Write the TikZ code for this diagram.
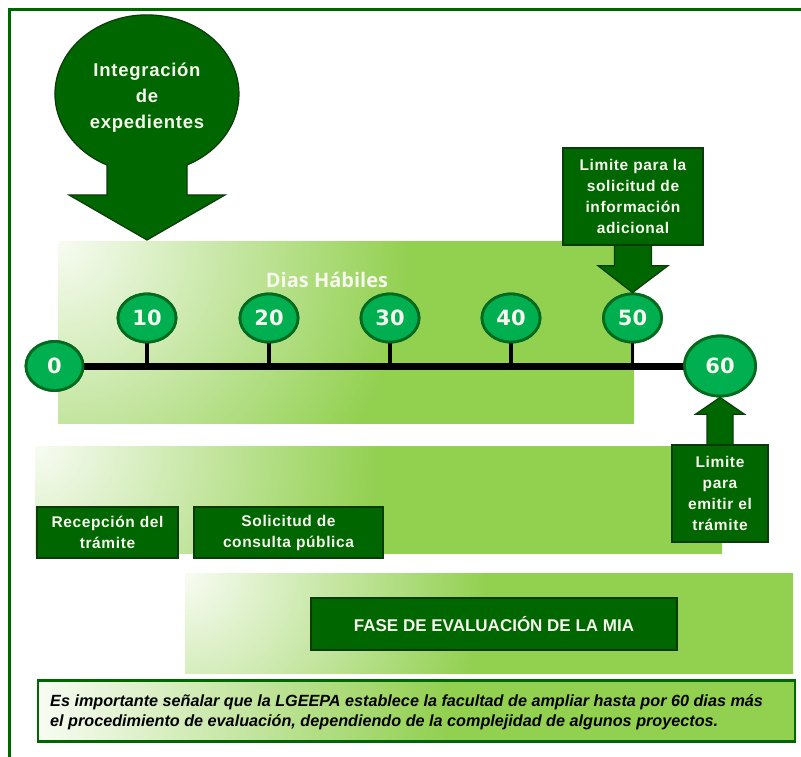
\documentclass[tikz,border=0pt]{standalone}
\usepackage{fontspec}
\setmainfont{Liberation Sans}
\newfontfamily\numfont{DejaVu Sans}
\newfontfamily\diasfont{Open Sans}
\newfontfamily\boxfont[LetterSpace=4.0]{Liberation Sans}
\usetikzlibrary{shapes.geometric}
\definecolor{bandg}{HTML}{92D050}
\definecolor{boxg}{HTML}{006600}
\definecolor{boxedge}{HTML}{0B3B0B}
\definecolor{circg}{HTML}{00B050}
\definecolor{circedge}{HTML}{006B1E}
\definecolor{framec}{HTML}{006600}
\definecolor{txtw}{HTML}{F6F8EE}
\colorlet{palegreen}{bandg!7}
\pgfdeclarehorizontalshading{notefade}{100bp}{color(0bp)=(palegreen); color(25bp)=(palegreen); color(52bp)=(bandg); color(100bp)=(bandg)}
\pgfdeclareradialshading{bandfade}{\pgfpoint{0bp}{0bp}}{color(0bp)=(palegreen); color(21bp)=(bandg); color(25bp)=(bandg); color(50bp)=(bandg)}
\newcommand{\myband}[5]{%
  \begin{scope}
    \clip (#1,#2) rectangle (#3,#4);
    \fill[bandg] (#1-5,#2-5) rectangle (#3+5,#4+5);
    \shade[shading=bandfade] (#1,#2) circle (#5);
  \end{scope}}
\tikzset{
  daynum/.style={ellipse, draw=circedge, line width=2.8pt, fill=circg, inner sep=0pt,
    minimum width=58pt, minimum height=48pt, text=txtw,
    font=\numfont\bfseries\fontsize{21}{21}\selectfont},
  gbox/.style={rectangle, fill=boxg, draw=boxedge, line width=1.5pt, text=txtw,
    font=\boxfont\bfseries\fontsize{15.5}{21}\selectfont, align=center, inner sep=0pt},
  garrow/.style={fill=boxg, draw=boxedge, line width=1.2pt, line join=miter},
  stem/.style={line width=3.5pt, black},
  axis/.style={line width=7pt, black}
}
\begin{document}
\begin{tikzpicture}[x=1pt,y=-1pt]
\useasboundingbox (0,0) rectangle (801,757);
\fill[white] (0,0) rectangle (801,757);
% frame
\draw[framec, line width=3.5pt] (9.5,757) -- (9.5,9.5) -- (801,9.5);
% bands
\myband{58}{241}{634}{423}{420}
\myband{35}{446}{722}{553}{410}
\myband{185}{573}{793}{673}{360}
% big arrow
\filldraw[garrow] (107,165) -- (107,195) -- (69,195) -- (147,240) -- (225,195) -- (187,195) -- (187,165)
  arc[start angle=64.2, end angle=-244.2, x radius=92, y radius=79] -- cycle;
\node[text=txtw, font=\boxfont\bfseries\fontsize{18.5}{26}\selectfont, align=center] (integ) at (147,98) {Integración\\de\\expedientes};
% timeline
\node[daynum, minimum width=57pt, minimum height=49pt] (n0) at (54.5,366) {0};
\node[daynum, minimum width=71pt, minimum height=60pt] (n60) at (720,366) {60};
\draw[axis] (n0.center) -- (n60.center);
\foreach \v/\x in {10/147,20/269,30/390,40/511,50/632.5}{
  \node[daynum] (n\v) at (\x,318) {\v};
  \draw[stem] (n\v.center) -- (n\v |- n0.center);
  \node[daynum] at (n\v) {\v};
}
\node[daynum, minimum width=57pt, minimum height=49pt] at (n0) {0};
\node[daynum, minimum width=71pt, minimum height=60pt] at (n60) {60};
\node[text=txtw, font=\diasfont\bfseries\fontsize{20}{20}\selectfont] (dias) at (327,280) {Dias Hábiles};
% info box and arrow
\node[gbox, minimum width=140pt, minimum height=97pt] (info) at (633,196.5) {Limite para la\\solicitud de\\información\\adicional};
\filldraw[garrow] ([xshift=-18.5pt,yshift=1pt]info.south) -- ([xshift=-18.5pt,yshift=-20pt]info.south)
  -- ([xshift=-35pt,yshift=-20pt]info.south) -- (n50.north) -- ([xshift=35pt,yshift=-20pt]info.south)
  -- ([xshift=18.5pt,yshift=-20pt]info.south) -- ([xshift=18.5pt,yshift=1pt]info.south);
\node[gbox, minimum width=140pt, minimum height=97pt] at (info) {Limite para la\\solicitud de\\información\\adicional};
% emit box and arrow
\node[gbox, minimum width=96pt, minimum height=97pt] (emit) at (720,493.5) {Limite\\para\\emitir el\\trámite};
\filldraw[garrow] ([xshift=-13pt,yshift=-1pt]emit.north) -- ([xshift=-13pt,yshift=30pt]emit.north)
  -- ([xshift=-24.5pt,yshift=30pt]emit.north) -- (n60.south) -- ([xshift=24.5pt,yshift=30pt]emit.north)
  -- ([xshift=13pt,yshift=30pt]emit.north) -- ([xshift=13pt,yshift=-1pt]emit.north);
\node[gbox, minimum width=96pt, minimum height=97pt] at (emit) {Limite\\para\\emitir el\\trámite};
% lower boxes
\node[gbox, minimum width=141pt, minimum height=51pt] (recep) at (107.5,532.5) {Recepción del\\trámite};
\node[gbox, minimum width=189pt, minimum height=51pt] (solic) at (288.5,532.5) {Solicitud de\\consulta pública};
\node[gbox, minimum width=366pt, minimum height=52pt, font=\bfseries\fontsize{17}{18}\selectfont] (fase) at (494,624) {FASE DE EVALUACIÓN DE LA MIA};
% note
\node[rectangle, shading=notefade, draw=framec, line width=2.5pt, minimum width=757pt, minimum height=61pt, inner sep=0pt] (note) at (416.5,711) {};
\node[anchor=west, align=left, inner sep=0pt, font=\bfseries\itshape\fontsize{16.2}{19.5}\selectfont] (notetxt) at (50,712) {Es importante señalar que la LGEEPA establece la facultad de ampliar hasta por 60 dias más\\el procedimiento de evaluación, dependiendo de la complejidad de algunos proyectos.};
\end{tikzpicture}
\end{document}
